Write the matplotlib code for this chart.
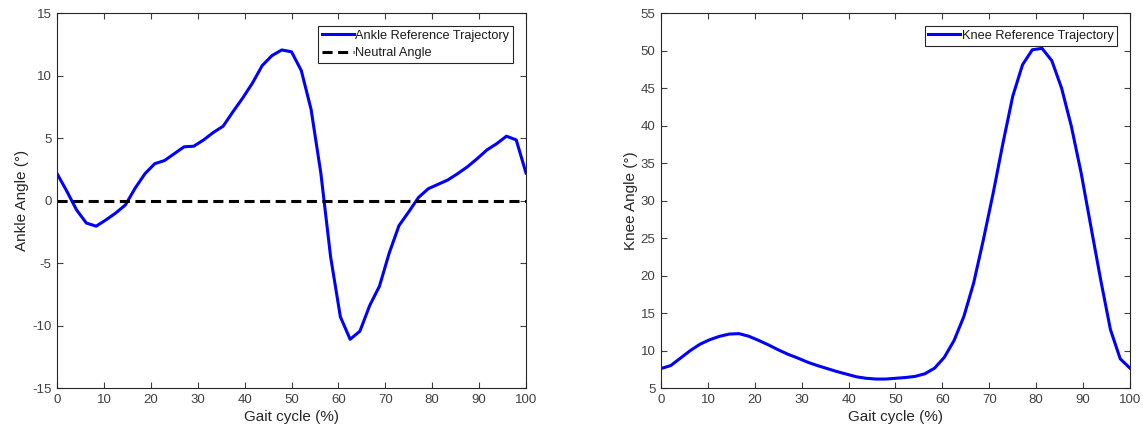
import matplotlib.pyplot as plt
import numpy as np

plt.rcParams['font.family'] = ['Liberation Sans', 'DejaVu Sans']
plt.rcParams['axes.unicode_minus'] = False

# gait cycle sampled at 49 points (0..100 %)
gait = np.linspace(0, 100, 49)

ankle_ref = [2.16, 0.75, -0.75, -1.8, -2.05, -1.55, -1.0, -0.35, 1.0, 2.15,
             2.95, 3.2, 3.75, 4.3, 4.35, 4.85, 5.45, 5.95, 7.1, 8.2,
             9.4, 10.8, 11.6, 12.05, 11.9, 10.4, 7.3, 2.2, -4.5, -9.3,
             -11.1, -10.45, -8.4, -6.85, -4.2, -2.0, -0.9, 0.25, 0.95, 1.3,
             1.65, 2.15, 2.7, 3.35, 4.05, 4.55, 5.15, 4.85, 2.2]

knee_ref = [7.6, 8.0, 9.0, 10.0, 10.85, 11.45, 11.9, 12.2, 12.25, 11.9,
            11.35, 10.75, 10.1, 9.5, 9.0, 8.45, 8.0, 7.6, 7.2, 6.85,
            6.5, 6.3, 6.2, 6.2, 6.3, 6.4, 6.55, 6.9, 7.65, 9.1,
            11.35, 14.55, 19.0, 24.8, 31.0, 37.65, 43.9, 48.1, 50.1, 50.3,
            48.65, 45.0, 39.9, 33.7, 26.55, 19.45, 12.8, 8.9, 7.65]

neutral = 0

fig = plt.figure(figsize=(11.43, 4.36), dpi=100)
ax1 = fig.add_axes([0.0499, 0.110, 0.4103, 0.860])
ax2 = fig.add_axes([0.5783, 0.110, 0.4103, 0.860])

txt_col = '#404040'


def style(ax):
    ax.tick_params(direction='in', top=True, right=True, length=4,
                   labelsize=9.5, colors=txt_col, pad=4)
    for s in ax.spines.values():
        s.set_color('#262626')
        s.set_linewidth(0.8)
    ax.set_xlim(0, 100)
    ax.set_xticks(np.arange(0, 101, 10))
    ax.set_xlabel('Gait cycle (%)', fontsize=11, color='#262626', labelpad=3)


def legend(ax):
    leg = ax.legend(loc='upper right', fontsize=9.2, fancybox=False,
                    edgecolor='#262626', framealpha=1, handlelength=2.5,
                    handletextpad=0.1, borderpad=0.3, labelspacing=0.45,
                    borderaxespad=1.0)
    leg.get_frame().set_linewidth(0.8)
    for t in leg.get_texts():
        t.set_color('#1a1a1a')
    return leg


ax1.plot(gait, ankle_ref, color='#0000ff', lw=2.2, label='Ankle Reference Trajectory')
ax1.axhline(neutral, color='black', lw=2.2, ls=(0, (3.3, 1.8)), label='Neutral Angle')
style(ax1)
ax1.set_ylim(-15, 15)
ax1.set_yticks(np.arange(-15, 16, 5))
ax1.set_ylabel('Ankle Angle (°)', fontsize=11, color='#262626', labelpad=2)
legend(ax1)

ax2.plot(gait, knee_ref, color='#0000ff', lw=2.2, label='Knee Reference Trajectory')
style(ax2)
ax2.set_ylim(5, 55)
ax2.set_yticks(np.arange(5, 56, 5))
ax2.set_ylabel('Knee Angle (°)', fontsize=11, color='#262626', labelpad=2)
legend(ax2)

fig.savefig('out.png', dpi=100)
